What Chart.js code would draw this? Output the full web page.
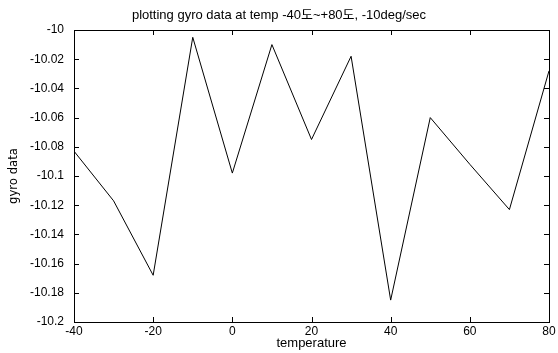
<!DOCTYPE html>
<html>
<head>
<meta charset="utf-8">
<script src="https://cdn.jsdelivr.net/npm/chart.js@4/dist/chart.umd.min.js"></script>
<style>
html,body{margin:0;padding:0;background:#fff;}
canvas{display:block;}
</style>
</head>
<body>
<canvas id="c" width="558" height="353"></canvas>
<script>
const temperatures = [-40, -30, -20, -10, 0, 10, 20, 30, 40, 50, 60, 70, 80];
const gyroValues = [-10.083, -10.117, -10.168, -10.005, -10.098, -10.010, -10.075, -10.018, -10.185, -10.060, -10.092, -10.123, -10.028];
const xTicks = [-40, -20, 0, 20, 40, 60, 80];
const yTicks = [-10, -10.02, -10.04, -10.06, -10.08, -10.1, -10.12, -10.14, -10.16, -10.18, -10.2];
const titleText = 'plotting gyro data at temp -40도~+80도, -10deg/sec';
const xTitle = 'temperature';
const yTitle = 'gyro data';

const FONT = '"Liberation Sans", Arial, "Noto Sans CJK KR", sans-serif';

const boxTicks = {
  id: 'boxTicks',
  afterDraw(chart) {
    const ctx = chart.ctx;
    const a = chart.chartArea;
    const xs = chart.scales.x, ys = chart.scales.y;
    ctx.save();
    ctx.strokeStyle = '#000';
    ctx.lineWidth = 1;
    ctx.strokeRect(Math.round(a.left) + 0.5, Math.round(a.top) + 0.5, Math.round(a.right - a.left), Math.round(a.bottom - a.top));
    ctx.beginPath();
    const L = 5;
    xTicks.forEach(v => {
      const px = Math.round(xs.getPixelForValue(v)) + 0.5;
      ctx.moveTo(px, a.bottom); ctx.lineTo(px, a.bottom - L);
      ctx.moveTo(px, a.top); ctx.lineTo(px, a.top + L);
    });
    yTicks.forEach(v => {
      const py = Math.round(ys.getPixelForValue(v)) + 0.5;
      ctx.moveTo(a.left, py); ctx.lineTo(a.left + L, py);
      ctx.moveTo(a.right, py); ctx.lineTo(a.right - L, py);
    });
    ctx.stroke();
    ctx.restore();
  }
};

new Chart(document.getElementById('c'), {
  type: 'line',
  data: {
    datasets: [{
      data: temperatures.map((t, i) => ({x: t, y: gyroValues[i]})),
      borderColor: '#000',
      borderWidth: 1,
      pointRadius: 0,
      tension: 0,
      fill: false
    }]
  },
  options: {
    responsive: false,
    animation: false,
    devicePixelRatio: 1,
    layout: {padding: {left: 0, right: 0, top: 0, bottom: 0}},
    plugins: {
      legend: {display: false},
      tooltip: {enabled: false},
      title: {
        display: true,
        text: titleText,
        color: '#000',
        fullSize: true,
        font: {family: FONT, size: 13, weight: 'normal', lineHeight: 1.2},
        padding: {top: 8, bottom: 6.4}
      }
    },
    scales: {
      x: {
        type: 'linear',
        min: -40, max: 80,
        afterBuildTicks(s) { s.ticks = xTicks.map(v => ({value: v})); },
        afterFit(s) { s.height = 31; },
        grid: {display: false, drawTicks: false},
        border: {display: false},
        ticks: {color: '#000', padding: 2, font: {family: FONT, size: 12}, maxRotation: 0, autoSkip: false},
        title: {display: true, text: xTitle, color: '#000', font: {family: FONT, size: 13}, padding: {top: 0, bottom: 2}}
      },
      y: {
        type: 'linear',
        min: -10.2, max: -10,
        afterBuildTicks(s) { s.ticks = yTicks.map(v => ({value: v})); },
        afterFit(s) { s.width = 74; },
        grid: {display: false, drawTicks: false},
        border: {display: false},
        ticks: {color: '#000', padding: 10, font: {family: FONT, size: 12}, autoSkip: false,
          callback: v => String(Number(v.toFixed(2)))},
        title: {display: true, text: yTitle, color: '#000', font: {family: '"Liberation Sans Narrow", "DejaVu Sans Condensed", ' + FONT, size: 13}, padding: {top: 6, bottom: 0}}
      },
      y2: {
        type: 'linear',
        position: 'right',
        min: -10.2, max: -10,
        afterFit(s) { s.width = 9; },
        grid: {display: false, drawTicks: false},
        border: {display: false},
        ticks: {display: false}
      }
    }
  },
  plugins: [boxTicks]
});
</script>
</body>
</html>
